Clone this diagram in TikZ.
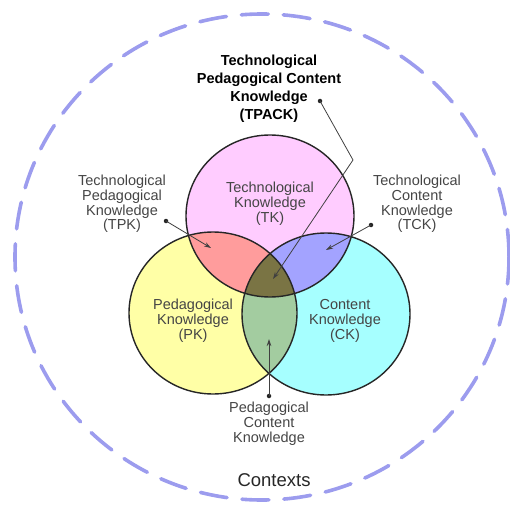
\documentclass[tikz,border=0pt]{standalone}
\usepackage{fontspec}
\setmainfont{Liberation Sans}
\usepackage{tikz}
\usetikzlibrary{
  positioning,
  arrows.meta
}
\definecolor{tkpink}{HTML}{FFCCFF}
\definecolor{pkyellow}{HTML}{FFFFA6}
\definecolor{ckcyan}{HTML}{A6FFFF}
\definecolor{tpkred}{HTML}{FF9C9C}
\definecolor{tckblue}{HTML}{A3A3FF}
\definecolor{pckgreen}{HTML}{A3CCA0}
\definecolor{tpackolive}{HTML}{7A7444}
\definecolor{ctxblue}{HTML}{9C9CEE}
\definecolor{labelgray}{HTML}{454545}
\tikzstyle{knowledge}=[align=center, text=labelgray, inner sep=0pt, font=\fontsize{14.5}{14.8}\selectfont]
\tikzstyle{pointer}=[-{Stealth[length=7pt,width=4.5pt]}, draw=black!75, line width=0.8pt]
\tikzstyle{dot}=[circle, fill=black!85, inner sep=0pt, minimum size=4.5pt]
\tikzstyle{ring}=[draw=black!85, line width=1.4pt]

\begin{document}
\begin{tikzpicture}[x=1pt, y=-1pt]
    \useasboundingbox (0,0) rectangle (509,516);

    % 文脈 (外側の破線)
    \draw[ctxblue, line width=3.6pt, line cap=round, dash pattern=on 27pt off 15pt]
      (262,257) ellipse [x radius=247, y radius=243];
    \node[knowledge, text=black!85, font=\fontsize{18.5}{20}\selectfont] (contexts) at (274,480) {Contexts};

    % 三つの円の中心
    \coordinate (tk) at (270,216);
    \coordinate (pk) at (213,313);
    \coordinate (ck) at (326,314);
    \tikzset{venn/.style={x radius=84, y radius=81}}

    % 塗り
    \fill[tkpink] (tk) ellipse [venn];
    \fill[pkyellow] (pk) ellipse [venn];
    \fill[ckcyan] (ck) ellipse [venn];
    \begin{scope}
      \clip (tk) ellipse [venn];
      \fill[tpkred] (pk) ellipse [venn];
      \fill[tckblue] (ck) ellipse [venn];
    \end{scope}
    \begin{scope}
      \clip (pk) ellipse [venn];
      \fill[pckgreen] (ck) ellipse [venn];
      \clip (ck) ellipse [venn];
      \fill[tpackolive] (tk) ellipse [venn];
    \end{scope}

    % 輪郭
    \draw[ring] (tk) ellipse [venn];
    \draw[ring] (pk) ellipse [venn];
    \draw[ring] (ck) ellipse [venn];

    % 円の中のラベル
    \node[knowledge] (tklabel) at (270,204) {Technological\\Knowledge\\(TK)};
    \node[knowledge] (pklabel) at (193,321) {Pedagogical\\Knowledge\\(PK)};
    \node[knowledge] (cklabel) at (345,321) {Content\\Knowledge\\(CK)};

    % 外側のラベル
    \node[knowledge, text=black, font=\bfseries\fontsize{14.5}{18}\selectfont] (tpack) at (269,89)
      {Technological\\Pedagogical Content\\Knowledge\\(TPACK)};
    \node[knowledge] (tpk) at (122,204) {Technological\\Pedagogical\\Knowledge\\(TPK)};
    \node[knowledge] (tck) at (417,204) {Technological\\Content\\Knowledge\\(TCK)};
    \node[knowledge] (pck) at (269,424) {Pedagogical\\Content\\Knowledge};

    % 引き出し線の端点
    \node[dot] (tpackdot) at (320,101) {};
    \node[dot] (tpkdot) at (166,221) {};
    \node[dot] (tckdot) at (371,225) {};
    \node[dot] (pckdot) at (269,396) {};
    \coordinate (tpackbend) at (353,160);
    \coordinate (tpackin) at (273,279);
    \coordinate (tpkin) at (211,248);
    \coordinate (tckin) at (326,250);
    \coordinate (pckin) at (269,339);

    % 引き出し線
    \draw[pointer] (tpackdot.center) -- (tpackbend) -- (tpackin);
    \draw[pointer] (tpkdot.center) -- (tpkin);
    \draw[pointer] (tckdot.center) -- (tckin);
    \draw[pointer] (pckdot.center) -- (pckin);
  \end{tikzpicture}
\end{document}
